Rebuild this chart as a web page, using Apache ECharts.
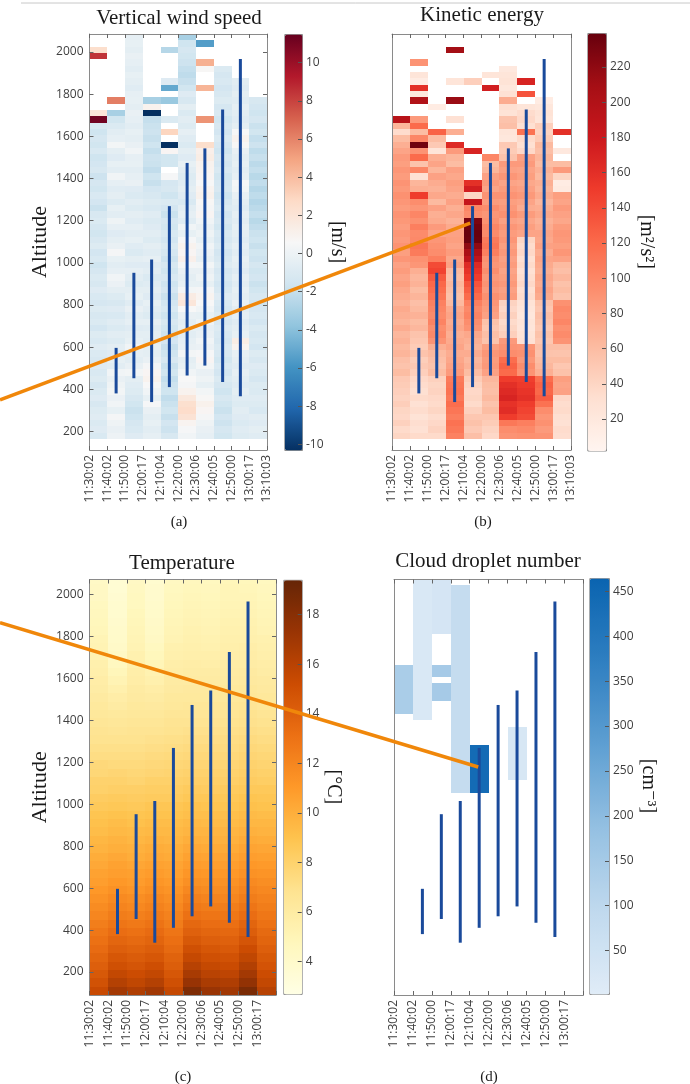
<!DOCTYPE html>
<html>
<head>
<meta charset="utf-8">
<script src="https://cdn.jsdelivr.net/npm/echarts@6.0.0/dist/echarts.min.js"></script>
<style>
  html, body { margin: 0; padding: 0; background: #fff; }
  #chart { width: 690px; height: 1084px; }
</style>
</head>
<body>
<div id="chart"></div>
<script>
const _ = null;

// time axis labels (column edges)
const timeLabels = ['11:30:02', '11:40:02', '11:50:00', '12:00:17', '12:10:04', '12:20:00',
  '12:30:06', '12:40:05', '12:50:00', '13:00:17', '13:10:03'];
const altitudeTicks = [200, 400, 600, 800, 1000, 1200, 1400, 1600, 1800, 2000];
const windTicks = [-10, -8, -6, -4, -2, 0, 2, 4, 6, 8, 10];
const keTicks = [20, 40, 60, 80, 100, 120, 140, 160, 180, 200, 220];
const tempTicks = [4, 6, 8, 10, 12, 14, 16, 18];
const dropTicks = [50, 100, 150, 200, 250, 300, 350, 400, 450];

// profile flights (blue bars): column, bottom and top altitude
const profileCols = [1, 2, 3, 4, 5, 6, 7, 8];
const profileBottom = [381, 453, 340, 411, 466, 513, 435, 367];
const profileTop = [597, 953, 1016, 1269, 1474, 1543, 1727, 1967];

// vertical wind speed [m/s], one list per column, top row first (30 m rows from 165 m)
const wind0 = [_,_,2.5,8.5,_,_,_,_, _,_,_,_,2,11.2,-1.2,-1.6, -1.3,-1.5,-1.1,-1.6,-1.4,-1.2,-1.7,-1.3,
  -1.5,-1.1,-1.4,-1.8,-1.2,-1.0,-1.3,-1.5, -1.2,-0.9,-1.4,-1.1,-1.6,-1.3,-1.0,-1.2, -0.8,-1.1,-1.3,-0.9,-1.2,-1.0,-1.4,-0.9,
  -1.1,-0.7,-1.0,-1.2,-0.8,-1.1,-0.9,-1.3, -1.0,-0.8,-1.2,-0.9,-0.7,-1.0,-0.8,-1.1];
const wind1 = [_,_,_,_,_,_,_,_, _,_,6.2,_,-3,-1.5,-1.0,-0.6, -0.4,0.3,-0.5,-0.8,-0.3,-0.6,0.2,-0.4,
  -0.7,-0.5,-0.9,-0.3,-0.6,0.1,-0.4,-0.8, -0.5,-0.2,0.4,-0.3,-0.6,-0.4,0.2,-0.1, -0.5,-0.9,-1.2,-0.8,-1.1,-0.7,-1.0,-0.6,
  -0.9,-0.5,-0.8,-0.3,-0.6,0.2,-0.2,0.1, 0.3,-0.1,0.2,-0.3,0.4,0.1,-0.2,0.0];
const wind2 = [-0.4,-0.3,-0.5,-0.2,-0.4,-0.6,-0.3,-0.5, -0.7,-0.4,-0.3,-0.5,-0.2,-0.4,-0.6,-0.3, -0.5,-0.2,0.2,-0.4,-0.3,-0.6,-0.4,-0.2,
  -0.8,-1.0,-0.6,-0.9,-0.5,-0.7,-0.4,-0.6, -0.3,-0.7,-1.0,-0.5,-0.8,-0.4,-0.6,-0.9, -0.5,-0.3,-0.7,-0.2,-0.6,-0.4,-0.8,-0.5,
  -0.3,0.2,-0.4,-0.6,-0.2,0.3,-0.5,-0.7, -0.9,-1.2,-1.5,-1.8,-1.6,-1.3,-1.1,-0.8];
const wind3 = [_,_,_,_,_,_,_,_, _,_,-3,1,-10.3,-2,-1.8,-1.7, -1.9,-1.6,-2.0,-1.7,-1.8,-2.1,-1.6,-1.9,
  -1.4,-1.2,-0.9,-1.1,-0.7,-1.0,-0.8,-0.6, -0.9,-0.5,-0.7,-0.4,-0.8,-0.6,-1.0,-0.7, -0.5,-0.8,-0.3,-0.6,-0.9,-0.4,-0.7,-0.5,
  -0.6,-0.3,-0.5,-0.2,0.4,0.8,1.0,0.6, 0.2,-0.3,0.5,-0.2,-0.5,-0.3,-0.6,-0.4];
const wind4 = [_,_,-2.5,_,_,_,_,-0.8, -5,_,-3.5,_,_,-1,_,3, _,-10.3,0.8,-1.5,-1.5,_,0.5,-1.3,
  -1.2,-1.6,-1.0,-1.4,-1.8,-1.3,-1.5,-1.1, -1.4,-1.0,-1.3,-1.7,-1.2,-1.5,-1.1,-1.6, -1.3,-1.8,-1.4,-1.1,-1.6,-1.2,-1.5,-1.7,
  -1.4,-1.9,-1.6,-1.2,-1.8,-1.5,-2.0,-1.7, -1.6,-2.1,-1.8,-1.5,-1.9,-1.4,-1.7,-1.2];
const wind5 = [-3,-1.6,-1.3,-1.5,-1.7,-2.0,-2.2,-1.9, -1.5,-0.8,-1.2,-0.5,-1.0,-0.6,-0.9,-0.4, -0.7,-1.0,-0.5,-0.8,-0.3,-0.6,-0.9,-0.7,
  -0.5,-0.8,-1.1,-0.6,-0.4,-0.7,0.2,-0.3, 0.5,1.0,0.8,1.2,0.4,-0.2,-0.5,-0.3, 0.3,1.5,1.9,0.6,-0.2,-0.5,-0.3,-0.6,
  -0.4,-0.2,0.3,-0.5,-0.3,0.2,0.6,0.4, 1.0,1.8,2.4,2.6,2.2,0.9,0.5,0.2];
const wind6 = [_,-5.5,_,_,4.5,0.7,_,_, 4.3,_,_,_,_,5.5,_,_, _,2.5,1.2,1.4,1.0,0.9,0.8,0.6,
  0.9,1.1,0.7,0.4,0.8,0.2,-0.2,0.1, -0.3,0.2,-0.1,-0.4,0.3,-0.2,0.1,-0.3, 0.4,0.9,0.6,0.2,-0.3,0.1,-0.4,-0.2,
  0.2,-0.1,0.5,0.8,0.3,-0.2,0.1,-0.3, 0.3,0.7,1.1,0.8,0.4,0.1,-0.2,-0.4];
const wind7 = [_,_,_,_,_,-1.0,-1.3,-1.1, -1.4,-1.2,-0.9,-1.3,-1.1,-1.5,-1.2,-1.4, -1.0,-1.3,-1.6,-1.2,-1.4,-1.1,-1.5,-1.3,
  -1.2,-1.6,-1.3,-1.0,-1.4,-1.2,-1.5,-1.1, -1.3,-1.0,-1.4,-1.2,-0.9,-1.3,-1.1,-1.4, -1.2,-0.8,-1.1,-1.3,-1.0,-1.2,-0.9,-1.1,
  -1.3,-1.0,-1.2,-1.5,-1.1,-1.4,-1.0,-1.3, -1.6,-1.2,-1.5,-1.8,-1.4,-1.7,-1.3,-1.5];
const wind8 = [_,_,_,_,_,_,_,-0.6, -0.8,-0.5,-0.7,-0.4,-0.6,-0.8,-0.5,0.6, 1.0,0.7,-0.2,-0.5,-0.3,-0.6,-0.4,0.5,
  0.3,-0.2,-0.5,-0.7,-0.4,-0.6,-0.3,-0.5, -0.7,-0.4,-0.6,-0.3,-0.5,-0.8,-0.4,-0.6, -0.3,-0.5,-0.2,-0.6,-0.4,-0.7,-0.5,-0.3,
  1.4,0.9,-0.3,-0.5,-0.7,-0.4,-0.6,-0.8, -0.5,-0.7,-0.9,-0.6,-0.8,-1.0,-0.7,-0.9];
const wind9 = [_,_,_,_,_,_,_,_, _,_,-1.2,-1.4,-1.6,-1.3,-1.8,-1.5, -2.0,-1.7,-2.2,-1.9,-2.3,-2.0,-2.4,-2.1,
  -2.5,-2.2,-2.6,-2.3,-2.0,-2.4,-2.1,-1.8, -1.6,-1.9,-1.5,-1.7,-1.3,-1.6,-1.4,-1.8, -1.5,-1.2,-1.6,-1.3,-1.1,-1.4,-1.0,-1.3,
  -1.1,-1.4,-0.9,-1.2,-0.8,-1.0,-1.3,-0.9, -1.0,-0.7,-0.9,-1.1,-0.6,-0.8,-0.5,-0.7];

// kinetic energy [m2/s2], same rows
const ke0 = [_,_,_,_,_,_,_,_, _,_,_,_,_,195,65,35, 60,70,78,85,82,88,84,90, 86,92,88,84,90,87,83,88,
  85,90,82,88,80,84,78,82, 76,72,68,74,70,66,72,64, 68,62,66,58,55,60,50,48, 45,42,46,40,38,44,36,40];
const ke1 = [_,_,_,_,90,_,25,15, 160,20,200,_,_,85,120,60, 100,235,90,120,55,100,30,65, 70,150,95,88,100,92,105,96,
  98,112,108,92,88,70,64,68, 60,66,58,62,68,60,64,55, 52,48,55,46,50,45,38,35, 32,36,30,34,28,33,30,36];
const ke2 = [_,_,_,_,_,_,_,_, _,_,_,15,_,_,_,125, 60,50,25,70,78,65,80,72, 68,75,62,80,70,74,85,78,
  88,92,95,105,140,145,130,122, 118,112,104,100,96,102,94,98, 90,70,62,58,55,60,44,40, 42,38,36,40,34,38,42,36];
const ke3 = [_,_,210,_,_,_,_,25, _,_,215,_,_,30,_,70, _,165,85,65,60,80,75,82, 78,72,80,70,76,68,74,80,
  82,78,84,76,80,62,58,64, 60,56,62,74,78,72,76,70, 74,78,72,76,80,85,108,112, 115,110,118,112,106,115,110,104];
const ke4 = [_,_,_,_,_,_,_,45, _,_,_,_,_,_,_,_, _,_,170,_,_,_,_,160, 175,40,185,100,95,230,235,240,
  238,220,205,190,165,158,150,135, 128,120,105,98,102,95,90,75, 70,66,72,64,68,60,48,42, 38,40,36,44,52,56,50,58];
const ke5 = [_,_,_,_,_,_,25,_, 175,_,_,_,_,_,_,_, _,_,_,100,60,65,80,85, 78,90,84,95,88,92,100,96,
  108,112,105,92,88,94,86,90, 85,92,88,84,80,56,52,58, 54,82,88,84,86,80,64,60, 58,62,55,60,52,48,42,38];
const ke6 = [_,_,_,_,_,20,25,28, 22,30,72,32,28,55,58,25, 22,50,48,55,85,80,88,78, 84,90,82,86,92,80,88,84,
  88,82,86,80,84,78,82,86, 80,84,42,38,44,36,40,45, 85,90,95,118,125,120,150,160, 165,170,158,162,150,110,95,90];
const ke7 = [_,_,_,_,_,_,_,170, _,135,_,25,35,38,32,115, 36,32,38,80,85,78,82,75, 80,86,78,72,84,76,82,78,
  40,35,38,32,36,30,34,38, 32,35,28,25,22,26,24,28, 30,88,92,86,95,90,148,152, 156,160,150,145,140,105,98,92];
const ke8 = [_,_,_,_,_,_,_,_, _,_,15,22,28,25,45,42, 48,62,58,65,60,68,62,70, 66,72,64,70,75,68,72,78,
  75,80,72,78,74,70,76,72, 78,74,56,52,58,54,50,56, 52,58,55,60,64,70,118,125, 122,128,115,95,88,92,85,90];
const ke9 = [_,_,_,_,_,_,_,_, _,_,_,_,_,_,_,160, _,_,20,_,60,85,40,15, 18,82,78,85,80,76,84,88,
  86,82,88,80,62,58,64,56, 60,55,92,98,95,100,92,96, 90,58,54,60,52,56,82,78, 80,38,34,36,32,30,35,33];

// temperature [deg C], top row first (40 m rows from 90 m)
const temp0 = [4.3,4.4,4.4,4.6,4.7,4.8,4.9,5.1,5.2,5.3, 5.5,5.6,5.8,5.9,6.1,6.3,6.4,6.6,6.8,6.9,
  7.1,7.3,7.6,7.7,8.0,8.1,8.4,8.6,8.9,9.1, 9.3,9.6,9.8,10.1,10.3,10.6,10.8,11.1,11.4,11.7, 12.0,12.4,12.8,13.1,13.4,13.8,14.1,14.5,14.9,15.4];
const temp1 = [3.6,3.6,3.7,3.8,3.8,3.9,4.0,4.1,4.2,4.4, 4.6,4.9,5.2,5.5,5.8,6.0,6.3,6.5,6.7,6.9,
  7.1,7.3,7.5,7.8,8.0,8.2,8.5,8.7,9.0,9.3, 9.5,9.8,10.0,10.3,10.6,10.8,11.1,11.4,11.8,12.1, 12.5,12.9,13.3,13.7,14.1,14.6,15.0,15.6,16.2,16.9];
const temp2 = [4.4,4.5,4.6,4.6,4.8,4.9,5.0,5.1,5.2,5.4, 5.5,5.7,5.8,6.0,6.1,6.3,6.4,6.6,6.8,6.9,
  7.1,7.3,7.5,7.7,7.9,8.2,8.4,8.6,8.9,9.1, 9.4,9.6,9.9,10.1,10.4,10.7,10.9,11.2,11.6,11.9, 12.3,12.7,13.1,13.5,13.9,14.3,14.7,15.2,15.7,16.4];
const temp3 = [3.8,3.9,3.9,4.0,4.1,4.2,4.3,4.4,4.6,4.8, 5.0,5.3,5.5,5.8,6.0,6.2,6.4,6.6,6.8,7.0,
  7.2,7.4,7.6,7.8,8.1,8.3,8.5,8.8,9.0,9.3, 9.5,9.8,10.1,10.3,10.6,10.9,11.2,11.5,11.9,12.2, 12.6,13.0,13.4,13.8,14.2,14.6,15.1,15.6,16.2,17.0];
const temp4 = [4.5,4.6,4.7,4.8,4.9,5.0,5.1,5.2,5.4,5.5, 5.7,5.8,6.0,6.1,6.3,6.4,6.6,6.8,6.9,7.1,
  7.3,7.5,7.7,7.9,8.1,8.3,8.5,8.8,9.0,9.3, 9.5,9.7,10.0,10.2,10.5,10.7,11.0,11.3,11.6,11.9, 12.2,12.5,12.9,13.2,13.5,13.9,14.2,14.6,15.0,15.5];
const temp5 = [4.7,4.8,4.9,5.0,5.1,5.2,5.3,5.4,5.5,5.6, 5.8,5.9,6.0,6.2,6.3,6.5,6.6,6.8,7.0,7.2,
  7.4,7.6,7.8,8.0,8.2,8.5,8.7,9.0,9.2,9.5, 9.7,10.0,10.3,10.6,10.9,11.2,11.5,11.9,12.3,12.7, 13.1,13.6,14.0,14.5,15.0,15.5,16.1,16.7,17.4,18.4];
const temp6 = [4.6,4.7,4.8,4.9,5.0,5.1,5.2,5.3,5.4,5.6, 5.7,5.9,6.0,6.2,6.3,6.5,6.6,6.8,7.0,7.2,
  7.4,7.6,7.8,8.0,8.2,8.4,8.7,8.9,9.2,9.4, 9.7,9.9,10.2,10.5,10.8,11.1,11.4,11.7,12.1,12.5, 12.9,13.3,13.7,14.1,14.6,15.0,15.5,16.0,16.6,17.3];
const temp7 = [4.9,5.0,5.0,5.1,5.2,5.3,5.4,5.5,5.6,5.7, 5.9,6.0,6.1,6.3,6.4,6.6,6.7,6.9,7.1,7.3,
  7.4,7.6,7.8,8.0,8.2,8.5,8.7,8.9,9.2,9.4, 9.7,9.9,10.2,10.5,10.8,11.1,11.4,11.7,12.0,12.4, 12.8,13.2,13.6,14.0,14.4,14.9,15.3,15.8,16.4,17.0];
const temp8 = [4.8,4.9,5.0,5.1,5.2,5.3,5.4,5.5,5.7,5.8, 5.9,6.1,6.2,6.4,6.5,6.7,6.9,7.0,7.2,7.4,
  7.6,7.8,8.0,8.2,8.4,8.6,8.9,9.1,9.4,9.6, 9.9,10.2,10.5,10.8,11.1,11.4,11.8,12.1,12.5,12.9, 13.3,13.8,14.2,14.7,15.2,15.7,16.3,16.9,17.6,18.6];
const temp9 = [4.6,4.7,4.8,4.9,5.0,5.1,5.2,5.4,5.5,5.6, 5.8,5.9,6.1,6.2,6.4,6.5,6.7,6.9,7.1,7.3,
  7.5,7.7,7.9,8.1,8.3,8.6,8.8,9.0,9.3,9.6, 9.8,10.1,10.4,10.7,11.0,11.3,11.6,11.9,12.2,12.5, 12.8,13.1,13.5,13.8,14.1,14.5,14.8,15.2,15.6,16.1];

// cloud droplet number [cm-3]: column, lower and upper altitude, value
const dropCol = [0, 1, 2, 2, 2, 3, 4, 6];
const dropLow = [1432, 1402, 1811, 1609, 1493, 1052, 1052, 1114];
const dropHigh = [1663, 2090, 2090, 1663, 1577, 2046, 1284, 1371];
const dropValue = [140, 22, 35, 150, 150, 80, 440, 28];

// orange pointers: [column, altitude] start (left panel) and end (right panel)
const linkAB = [[-5.04, 351], [4.37, 1189]];
const linkCD = [[-4.8, 1866], [4.45, 1178]];

const windCols = [wind0, wind1, wind2, wind3, wind4, wind5, wind6, wind7, wind8, wind9];
const keCols = [ke0, ke1, ke2, ke3, ke4, ke5, ke6, ke7, ke8, ke9];
const tempCols = [temp0, temp1, temp2, temp3, temp4, temp5, temp6, temp7, temp8, temp9];

const rdbu = ['#053061', '#2166ac', '#4393c3', '#92c5de', '#d1e5f0', '#f7f7f7',
  '#fddbc7', '#f4a582', '#d6604d', '#b2182b', '#67001f'];
const reds = ['#fff5f0', '#fee0d2', '#fcbba1', '#fc9272', '#fb6a4a', '#ef3b2c', '#cb181d', '#a50f15', '#67000d'];
const ylorbr = ['#ffffe5', '#fff7bc', '#fee391', '#fec44f', '#fe9929', '#ec7014', '#cc4c02', '#993404', '#662506'];
const blues = ['#e0ecf7', '#c0d9ee', '#94c0e2', '#5e9fd2', '#2f7fc1', '#0a64b0'];

const serif = '"Liberation Serif", "DejaVu Serif", serif';
const sans = '"Open Sans", "Noto Sans", sans-serif';

// turn the column lists into [col, low, high, value] cells
function toCells(cols, base, step) {
  const out = [];
  cols.forEach((col, c) => {
    col.forEach((v, i) => {
      if (v === null) return;
      const k = col.length - 1 - i;
      out.push([c, base + k * step, base + (k + 1) * step, v]);
    });
  });
  return out;
}

function drawCell(params, api) {
  const a = api.coord([api.value(0), api.value(2)]);
  const b = api.coord([api.value(0) + 1, api.value(1)]);
  const x0 = Math.round(a[0]), x1 = Math.round(b[0]);
  const y0 = Math.round(a[1]), y1 = Math.round(b[1]);
  const cs = params.coordSys;
  const shape = echarts.graphic.clipRectByRect(
    { x: x0, y: y0, width: x1 - x0, height: y1 - y0 },
    { x: cs.x, y: cs.y, width: cs.width, height: cs.height });
  if (!shape) return;
  return { type: 'rect', shape: shape, style: { fill: api.visual('color') } };
}

function drawProfile(params, api) {
  const p0 = api.coord([api.value(0), api.value(1)]);
  const p1 = api.coord([api.value(0), api.value(2)]);
  return {
    type: 'line',
    shape: { x1: p0[0], y1: p0[1], x2: p1[0], y2: p1[1] },
    style: { stroke: '#1a4a9b', lineWidth: 3 }
  };
}

const panels = [
  {
    title: 'Vertical wind speed', titleAt: [179, 18], tag: '(a)', tagAt: [179, 522],
    plot: { left: 89.5, top: 34, width: 177.5, height: 416 }, alt: [112.7, 2085.4],
    xLabels: timeLabels, showY: true,
    bar: { left: 284.3, top: 34, width: 17.7, height: 416 }, range: [-10.3, 11.5], colors: rdbu,
    ticks: windTicks, unit: '[m/s]', unitGap: 24,
    cells: toCells(windCols, 165, 30)
  },
  {
    title: 'Kinetic energy', titleAt: [482, 15], tag: '(b)', tagAt: [483, 522],
    plot: { left: 392, top: 34, width: 179, height: 416 }, alt: [112.7, 2085.4],
    xLabels: timeLabels, showY: false,
    bar: { left: 587.3, top: 33, width: 18.7, height: 417.5 }, range: [2.1, 239.3], colors: reds,
    ticks: keTicks, unit: '[m²/s²]', unitGap: 30,
    cells: toCells(keCols, 165, 30)
  },
  {
    title: 'Temperature', titleAt: [182, 563], tag: '(c)', tagAt: [183, 1077],
    plot: { left: 89.5, top: 579.5, width: 186.5, height: 415.5 }, alt: [90.5, 2072.5],
    xLabels: timeLabels.slice(0, 10), showY: true,
    bar: { left: 283.3, top: 579.8, width: 18.4, height: 414.1 }, range: [2.7, 19.4], colors: ylorbr,
    ticks: tempTicks, unit: '[°C]', unitGap: 22,
    cells: toCells(tempCols, 90, 40)
  },
  {
    title: 'Cloud droplet number', titleAt: [488, 561], tag: '(d)', tagAt: [489, 1077],
    plot: { left: 394, top: 579.5, width: 189.3, height: 415.5 }, alt: [90.5, 2072.5],
    xLabels: timeLabels.slice(0, 10), showY: false,
    bar: { left: 589.3, top: 578.1, width: 19.7, height: 415.8 }, range: [1.8, 464.7], colors: blues,
    ticks: dropTicks, unit: '[cm⁻³]', unitGap: 29,
    cells: dropCol.map((c, i) => [c, dropLow[i], dropHigh[i], dropValue[i]])
  }
];

const boxLine = { show: true, onZero: false, lineStyle: { color: '#8a8a8a', width: 1 } };
const tickIn = { show: true, inside: true, length: 4, lineStyle: { color: '#666' } };
const labelStyle = { fontFamily: sans, fontSize: 12, color: '#404040' };
const plainNumber = v => String(v);

const grid = [], xAxis = [], yAxis = [], series = [], visualMap = [];

panels.forEach((p, i) => {
  grid.push(Object.assign({ containLabel: false }, p.plot));
  grid.push(Object.assign({ containLabel: false }, p.bar));

  xAxis.push({
    type: 'value', gridIndex: 2 * i, min: 0, max: 10, interval: 1, position: 'bottom', z: 5,
    axisLine: boxLine, axisTick: tickIn, splitLine: { show: false },
    axisLabel: Object.assign({ rotate: 90, margin: 5, formatter: v => p.xLabels[Math.round(v)] || '' }, labelStyle)
  });
  xAxis.push({
    type: 'value', gridIndex: 2 * i, min: 0, max: 10, interval: 1, position: 'top', z: 5,
    axisLine: boxLine, axisTick: tickIn, splitLine: { show: false }, axisLabel: { show: false }
  });
  xAxis.push({ type: 'value', gridIndex: 2 * i + 1, min: 0, max: 1, show: false });

  yAxis.push({
    type: 'value', gridIndex: 2 * i, min: p.alt[0], max: p.alt[1], position: 'left', z: 5,
    axisLine: boxLine, splitLine: { show: false },
    axisTick: Object.assign({}, tickIn, { show: p.showY, customValues: altitudeTicks }),
    axisLabel: Object.assign({ show: p.showY, margin: 6, customValues: altitudeTicks, formatter: plainNumber }, labelStyle),
    name: p.showY ? 'Altitude' : '', nameLocation: 'middle', nameGap: 38,
    nameTextStyle: { fontFamily: serif, fontSize: 22, color: '#1a1a1a' }
  });
  yAxis.push({
    type: 'value', gridIndex: 2 * i, min: p.alt[0], max: p.alt[1], position: 'right', z: 5,
    axisLine: boxLine, splitLine: { show: false },
    axisTick: Object.assign({}, tickIn, { show: p.showY, customValues: altitudeTicks }),
    axisLabel: { show: false }
  });
  yAxis.push({
    type: 'value', gridIndex: 2 * i + 1, min: p.range[0], max: p.range[1], position: 'right', z: 10,
    axisLine: { show: false, onZero: false }, splitLine: { show: false },
    axisTick: { show: true, inside: true, length: 4, customValues: p.ticks, lineStyle: { color: '#555' } },
    axisLabel: Object.assign({ margin: 4, customValues: p.ticks, formatter: plainNumber }, labelStyle),
    name: p.unit, nameLocation: 'middle', nameRotate: -90, nameGap: p.unitGap,
    nameTextStyle: { fontFamily: serif, fontSize: 20, color: '#1a1a1a' }
  });

  series.push({
    type: 'custom', xAxisIndex: 3 * i, yAxisIndex: 3 * i, renderItem: drawCell,
    data: p.cells, z: 1, silent: true
  });
  series.push({
    type: 'custom', xAxisIndex: 3 * i, yAxisIndex: 3 * i, renderItem: drawProfile,
    data: profileCols.map((c, j) => [c + 0.5, profileBottom[j], profileTop[j]]), z: 3, silent: true
  });

  visualMap.push({
    type: 'continuous', seriesIndex: 2 * i, dimension: 3,
    min: p.range[0], max: p.range[1], inRange: { color: p.colors },
    calculable: false, hoverLink: false, orient: 'vertical',
    left: p.bar.left, top: p.bar.top, itemWidth: p.bar.width, itemHeight: p.bar.height,
    padding: 0, borderColor: '#8a8a8a', borderWidth: 1
  });
});

const chart = echarts.init(document.getElementById('chart'));
chart.setOption({
  animation: false,
  backgroundColor: '#fff',
  grid: grid, xAxis: xAxis, yAxis: yAxis, series: series, visualMap: visualMap
});

// titles, panel tags and the orange pointers
const a0 = chart.convertToPixel({ xAxisIndex: 0, yAxisIndex: 0 }, linkAB[0]);
const a1 = chart.convertToPixel({ xAxisIndex: 3, yAxisIndex: 3 }, linkAB[1]);
const c0 = chart.convertToPixel({ xAxisIndex: 6, yAxisIndex: 6 }, linkCD[0]);
const c1 = chart.convertToPixel({ xAxisIndex: 9, yAxisIndex: 9 }, linkCD[1]);

const elements = [
  { type: 'line', shape: { x1: 21, y1: 3, x2: 690, y2: 3 }, style: { stroke: '#c8c8c8', lineWidth: 1 } }
];
panels.forEach(p => {
  elements.push({
    type: 'text', x: p.titleAt[0], y: p.titleAt[1],
    style: { text: p.title, font: '21px ' + serif, fill: '#1a1a1a', align: 'center', verticalAlign: 'middle' }
  });
  elements.push({
    type: 'text', x: p.tagAt[0], y: p.tagAt[1],
    style: { text: p.tag, font: '15px ' + serif, fill: '#1a1a1a', align: 'center', verticalAlign: 'middle' }
  });
});
[[a0, a1], [c0, c1]].forEach(seg => {
  elements.push({
    type: 'line', z: 100,
    shape: { x1: seg[0][0], y1: seg[0][1], x2: seg[1][0], y2: seg[1][1] },
    style: { stroke: '#f0870a', lineWidth: 3.5 }
  });
});
chart.setOption({ graphic: { elements: elements } });
</script>
</body>
</html>
